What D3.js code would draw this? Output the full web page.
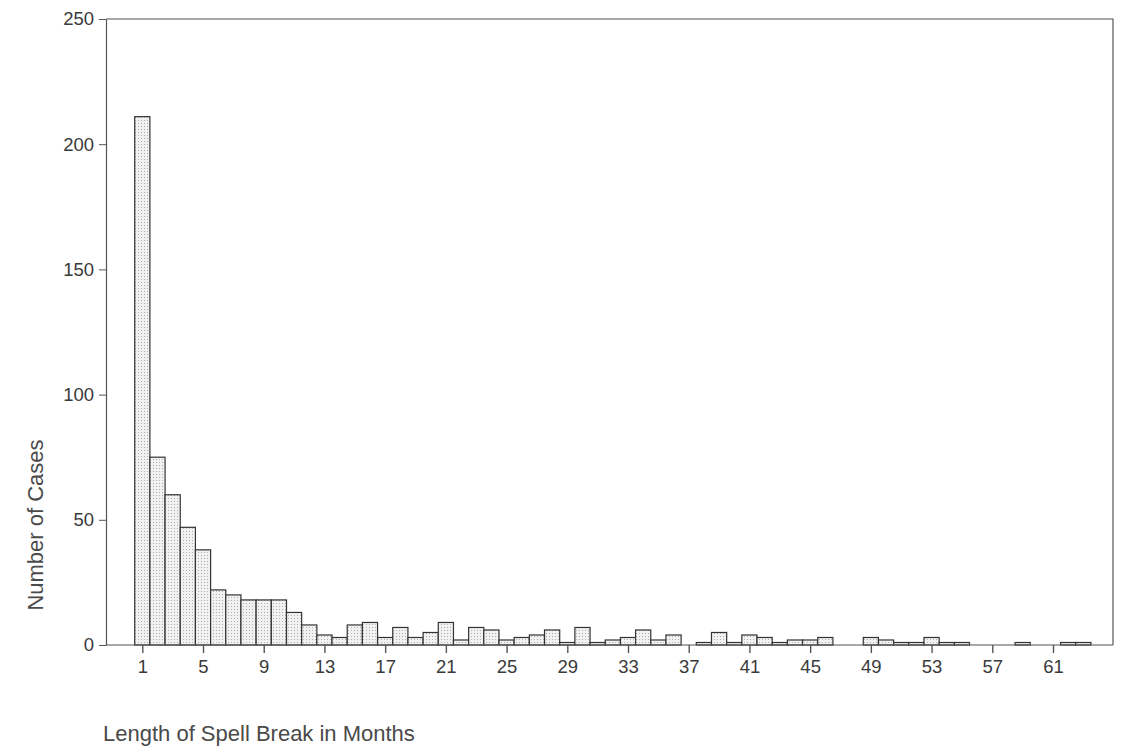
<!DOCTYPE html>
<meta charset="utf-8">
<style>
body { margin: 0; background: #fff; }
svg { font-family: "Liberation Sans", Arial, sans-serif; }
.axis text { fill: #3a3a3a; font-size: 18.5px; }
.axis line, .axis path { stroke: #555; }
.bars rect { stroke: #333; stroke-width: 1.2; }
.title { fill: #4a4a4a; font-size: 22px; }
</style>
<body>
<script src="https://cdnjs.cloudflare.com/ajax/libs/d3/7.8.5/d3.min.js"></script>
<script>
var width = 1122
var height = 747

// months 1..63 and number of cases per month
var months = [1,2,3,4,5,6,7,8,9,10,11,12,13,14,15,16,17,18,19,20,21,22,23,24,25,26,27,28,29,30,31,32,
    33,34,35,36,37,38,39,40,41,42,43,44,45,46,47,48,49,50,51,52,53,54,55,56,57,58,59,60,61,62,63]
var cases = [211,75,60,47,38,22,20,18,18,18,13,8,4,3,8,9,3,7,3,5,9,2,7,6,2,3,4,6,1,7,1,2,
    3,6,2,4,0,1,5,1,4,3,1,2,2,3,0,0,3,2,1,1,3,1,1,0,0,0,1,0,0,1,1]
var xTicks = [1,5,9,13,17,21,25,29,33,37,41,45,49,53,57,61]
var yTicks = [0,50,100,150,200,250]

var plotLeft = 106, plotRight = 1113, plotTop = 19, plotBottom = 645

var x = d3.scaleLinear().domain([1, 61]).range([142.3, 1053])
var bw = x(2) - x(1)
var y = d3.scaleLinear().domain([0, 250]).range([plotBottom, plotTop])

var svg = d3.select('body').append('svg')
    .attr('width', width)
    .attr('height', height)

// stipple fill like the printed chart
var pat = svg.append('defs').append('pattern')
    .attr('id', 'dots')
    .attr('patternUnits', 'userSpaceOnUse')
    .attr('width', 3).attr('height', 3)
pat.append('rect').attr('width', 3).attr('height', 3).attr('fill', '#f1f1f1')
pat.append('rect').attr('width', 1).attr('height', 1).attr('fill', '#b0b0b0')

svg.append('g')
    .attr('class', 'bars')
    .selectAll('rect')
    .data(months)
    .enter().append('rect')
    .attr('x', function (d) { return x(d) - bw / 2 })
    .attr('y', function (d, i) { return y(cases[i]) })
    .attr('width', bw)
    .attr('height', function (d, i) { return y(0) - y(cases[i]) })
    .attr('fill', 'url(#dots)')

// frame: top and right edges
svg.append('path')
    .attr('d', 'M' + plotLeft + ',' + plotTop + 'H' + plotRight + 'V' + plotBottom)
    .attr('fill', 'none')
    .attr('stroke', '#555')
    .attr('stroke-width', 1.2)

// baseline across the plot
svg.append('line')
    .attr('x1', plotLeft).attr('x2', plotRight)
    .attr('y1', plotBottom).attr('y2', plotBottom)
    .attr('stroke', '#555')
    .attr('stroke-width', 1.2)

var yAxis = svg.append('g')
    .attr('class', 'axis')
    .attr('transform', 'translate(' + plotLeft + ',0)')
    .call(d3.axisLeft(y).tickValues(yTicks).tickSize(7).tickPadding(5).tickSizeOuter(0))
yAxis.select('.domain').attr('stroke-width', 1.2)

var xAxis = svg.append('g')
    .attr('class', 'axis')
    .attr('transform', 'translate(0,' + plotBottom + ')')
    .call(d3.axisBottom(x).tickValues(xTicks).tickSize(8).tickPadding(7).tickFormat(d3.format('d')))
xAxis.select('.domain').remove()
xAxis.selectAll('line').attr('stroke-width', 1.4)

svg.append('text')
    .attr('class', 'title')
    .attr('transform', 'translate(43,525) rotate(-90)')
    .attr('text-anchor', 'middle')
    .text('Number of Cases')

svg.append('text')
    .attr('class', 'title')
    .attr('x', 103)
    .attr('y', 741)
    .text('Length of Spell Break in Months')
</script>
</body>
